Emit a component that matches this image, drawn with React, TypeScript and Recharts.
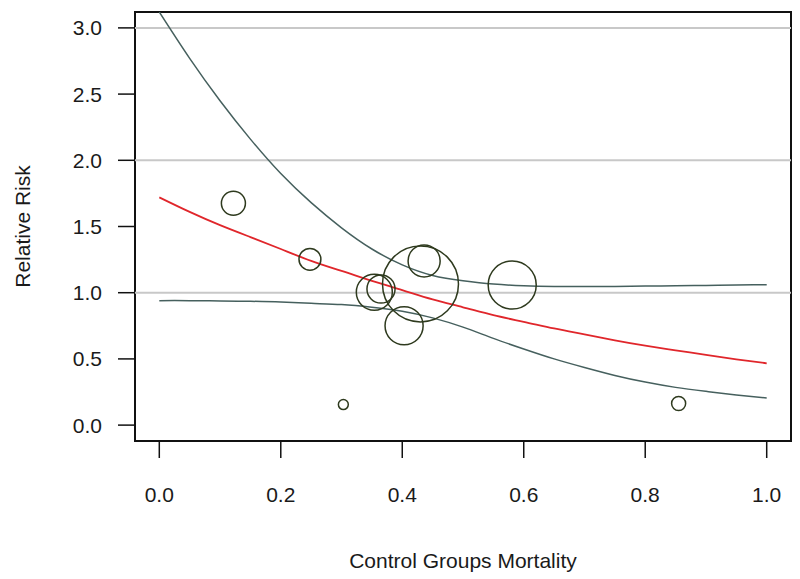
import {
  ComposedChart,
  Line,
  Scatter,
  XAxis,
  YAxis,
  ZAxis,
  ReferenceLine,
  ReferenceArea,
} from "recharts";

// fitted curve (x = control groups mortality)
const xGrid = [0, 0.05, 0.1, 0.15, 0.2, 0.25, 0.3, 0.35, 0.4, 0.45, 0.5, 0.55, 0.6, 0.65, 0.7, 0.75, 0.8, 0.85, 0.9, 0.95, 1.0];
const estimate = [1.72, 1.61, 1.51, 1.42, 1.33, 1.24, 1.165, 1.09, 1.02, 0.95, 0.89, 0.83, 0.78, 0.73, 0.685, 0.64, 0.6, 0.565, 0.53, 0.497, 0.467];
const lowerCI = [0.94, 0.94, 0.938, 0.935, 0.93, 0.92, 0.91, 0.89, 0.86, 0.81, 0.74, 0.655, 0.575, 0.5, 0.435, 0.375, 0.325, 0.285, 0.255, 0.228, 0.205];
const upperCI = [3.12, 2.77, 2.45, 2.16, 1.9, 1.68, 1.49, 1.33, 1.21, 1.13, 1.09, 1.065, 1.052, 1.047, 1.046, 1.047, 1.05, 1.052, 1.055, 1.058, 1.06];

// individual studies
const studyMortality = [0.122, 0.248, 0.303, 0.354, 0.365, 0.403, 0.43, 0.436, 0.581, 0.855];
const studyRR = [1.675, 1.252, 0.155, 1.003, 1.028, 0.75, 1.066, 1.24, 1.058, 0.163];
const studyWeight = [4.1, 3.4, 0.7, 9.2, 5.6, 10.3, 41.0, 7.3, 16.4, 1.4];

const xTicks = [0, 0.2, 0.4, 0.6, 0.8, 1.0];
const yTicks = [0, 0.5, 1.0, 1.5, 2.0, 2.5, 3.0];
const gridLines = [1, 2, 3];

const curveData = xGrid.map((x, i) => ({ x, est: estimate[i], lo: lowerCI[i], hi: upperCI[i] }));
const studyData = studyMortality.map((x, i) => ({ x, y: studyRR[i], w: studyWeight[i] }));

const fmt = (v: number) => v.toFixed(1);
const tickStyle = { fontSize: 21, fill: "#1a1a1a" };
const ciColor = "#46605e";

export default function App() {
  return (
    <ComposedChart
      width={792}
      height={571}
      margin={{ top: 4, right: 9, bottom: 0, left: 0 }}
      style={{ fontFamily: "'Liberation Sans', Arial, sans-serif" }}
    >
      <XAxis
        type="number"
        dataKey="x"
        domain={[-0.04, 1.04]}
        ticks={xTicks}
        tickFormatter={fmt}
        allowDataOverflow
        axisLine={false}
        tickSize={17}
        tickMargin={29}
        tickLine={{ stroke: "#111", strokeWidth: 1.5 }}
        tick={tickStyle}
        height={138}
        label={{ value: "Control Groups Mortality", position: "insideBottom", offset: 11, fontSize: 21, fill: "#1a1a1a" }}
      />
      <YAxis
        type="number"
        domain={[-0.12, 3.12]}
        ticks={yTicks}
        tickFormatter={fmt}
        allowDataOverflow
        axisLine={false}
        tickSize={17}
        tickMargin={16}
        tickLine={{ stroke: "#111", strokeWidth: 1.5 }}
        tick={tickStyle}
        width={127}
        label={{
          value: "Relative Risk",
          angle: -90,
          position: "insideLeft",
          offset: 15,
          fontSize: 21,
          fill: "#1a1a1a",
          style: { textAnchor: "middle" },
        }}
      />
      <ZAxis type="number" dataKey="w" domain={[0, 41]} range={[0, 4536]} />
      {gridLines.map((g) => (
        <ReferenceLine key={g} y={g} stroke="#c8c8c8" strokeWidth={2} />
      ))}
      <Line data={curveData} dataKey="hi" type="natural" stroke={ciColor} strokeWidth={1.5} dot={false} isAnimationActive={false} />
      <Line data={curveData} dataKey="lo" type="natural" stroke={ciColor} strokeWidth={1.5} dot={false} isAnimationActive={false} />
      <Line data={curveData} dataKey="est" type="natural" stroke="#e0262b" strokeWidth={1.8} dot={false} isAnimationActive={false} />
      <Scatter
        data={studyData}
        dataKey="y"
        shape="circle"
        fill="none"
        stroke="#2e3a1e"
        strokeWidth={1.5}
        isAnimationActive={false}
      />
      <ReferenceArea x1={-0.04} x2={1.04} y1={-0.12} y2={3.12} fill="none" stroke="#111" strokeWidth={2} />
    </ComposedChart>
  );
}
